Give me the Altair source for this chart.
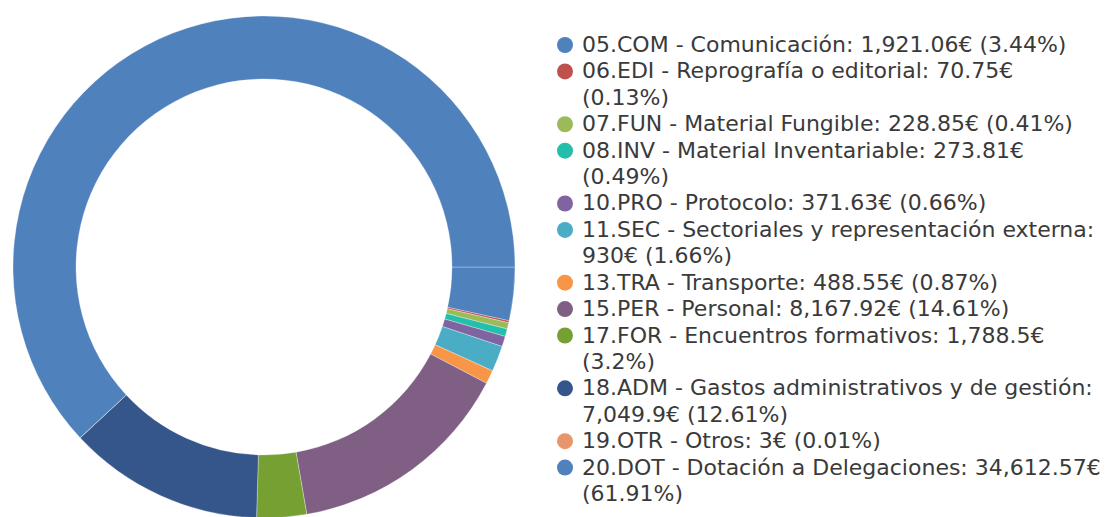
import math
import altair as alt
import pandas as pd

codes = ["05.COM", "06.EDI", "07.FUN", "08.INV", "10.PRO", "11.SEC",
         "13.TRA", "15.PER", "17.FOR", "18.ADM", "19.OTR", "20.DOT"]
amounts = [1921.06, 70.75, 228.85, 273.81, 371.63, 930,
           488.55, 8167.92, 1788.5, 7049.9, 3, 34612.57]
colors = ["#4f81bd", "#c0504d", "#9bbb59", "#23bfaa", "#8064a2", "#4bacc6",
          "#f79646", "#7f6084", "#77a033", "#34568b", "#e8956b", "#4f81bd"]
label_lines = [
    ["05.COM - Comunicación: 1,921.06€ (3.44%)"],
    ["06.EDI - Reprografía o editorial: 70.75€", "(0.13%)"],
    ["07.FUN - Material Fungible: 228.85€ (0.41%)"],
    ["08.INV - Material Inventariable: 273.81€", "(0.49%)"],
    ["10.PRO - Protocolo: 371.63€ (0.66%)"],
    ["11.SEC - Sectoriales y representación externa:", "930€ (1.66%)"],
    ["13.TRA - Transporte: 488.55€ (0.87%)"],
    ["15.PER - Personal: 8,167.92€ (14.61%)"],
    ["17.FOR - Encuentros formativos: 1,788.5€", "(3.2%)"],
    ["18.ADM - Gastos administrativos y de gestión:", "7,049.9€ (12.61%)"],
    ["19.OTR - Otros: 3€ (0.01%)"],
    ["20.DOT - Dotación a Delegaciones: 34,612.57€", "(61.91%)"],
]

arc_df = pd.DataFrame({"cat": codes, "amount": amounts, "order": list(range(len(codes)))})

rows = []
r = 0
for c, lines in zip(codes, label_lines):
    for j, t in enumerate(lines):
        rows.append({"cat": c, "row": r, "text": t, "first": j == 0})
        r += 1
leg_df = pd.DataFrame(rows)
n_rows = r - 1

color_scale = alt.Scale(domain=codes, range=colors)
yscale = alt.Scale(domain=[0, n_rows], range=[37, 486])

arc = alt.Chart(arc_df).mark_arc(
    innerRadius=188, outerRadius=251, stroke="white", strokeWidth=1, strokeOpacity=0.3
).encode(
    theta=alt.Theta("amount:Q", stack=True,
                    scale=alt.Scale(range=[math.pi / 2, math.pi / 2 + 2 * math.pi])),
    color=alt.Color("cat:N", scale=color_scale, legend=None),
    order=alt.Order("order:Q"),
    x=alt.value(256),
    y=alt.value(259),
)

dots = alt.Chart(leg_df).transform_filter("datum.first").mark_circle(size=256, opacity=1).encode(
    x=alt.value(557),
    y=alt.Y("row:Q", scale=yscale, axis=None),
    color=alt.Color("cat:N", scale=color_scale, legend=None),
)

texts = alt.Chart(leg_df).mark_text(
    align="left", baseline="middle", font="DejaVu Sans", fontSize=22, color="#3a3a3a"
).encode(
    x=alt.value(574),
    y=alt.Y("row:Q", scale=yscale, axis=None),
    text="text:N",
)

chart = alt.layer(arc, dots, texts).properties(
    width=1098, height=509, padding=0, autosize="none"
).configure_view(stroke=None)

chart.save("out.html", embed_options={"renderer": "svg", "actions": False})
